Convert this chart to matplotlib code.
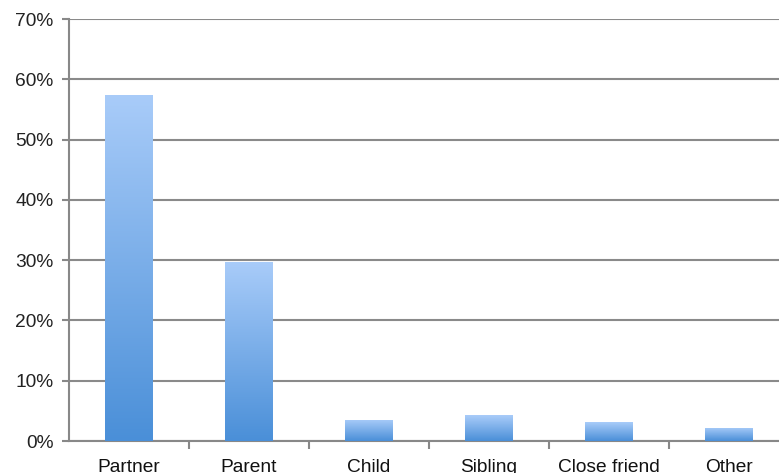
import numpy as np
import matplotlib
matplotlib.use("Agg")
import matplotlib.pyplot as plt
from matplotlib.colors import LinearSegmentedColormap

categories = ["Partner", "Parent", "Child", "Sibling", "Close friend", "Other"]
values = [57.4, 29.7, 3.5, 4.3, 3.1, 2.2]
yticks = [0, 10, 20, 30, 40, 50, 60, 70]
ytick_labels = ["0%", "10%", "20%", "30%", "40%", "50%", "60%", "70%"]

plt.rcParams['font.family'] = ['Liberation Sans', 'DejaVu Sans']

W, H = 779, 473
fig = plt.figure(figsize=(W / 100, H / 100), dpi=100)
left, right = 69 / W, 789 / W
bottom, top = 1 - 441 / H, 1 - 19 / H
ax = fig.add_axes([left, bottom, right - left, top - bottom])

x = np.arange(len(categories))
bars = ax.bar(x, values, width=0.4, color="none", edgecolor="none", zorder=3)

cmap = LinearSegmentedColormap.from_list("g", ["#4A8FD8", "#A9CCF9"])
grad = np.linspace(0, 1, 256).reshape(-1, 1)
for b in bars:
    bx, by = b.get_x(), b.get_y()
    bw, bh = b.get_width(), b.get_height()
    im = ax.imshow(grad, cmap=cmap, origin="lower", aspect="auto",
                   extent=[bx, bx + bw, by, by + bh], zorder=3,
                   interpolation="bilinear")
    im.set_clip_path(b)

ax.set_xlim(-0.5, len(categories) - 0.5)
ax.set_ylim(0, 70)
ax.set_yticks(yticks)
ax.set_yticklabels(ytick_labels, fontsize=13.8, color="#222222")
ax.set_xticks(x)
ax.set_xticklabels(categories, fontsize=13.8, color="#111111")
ax.tick_params(axis="x", length=0, pad=13)
ax.set_xticks(np.arange(len(categories) - 1) + 0.5, minor=True)
ax.tick_params(axis="x", which="minor", length=6, width=1.5, color="#888888", direction="out")
ax.tick_params(axis="y", length=5, width=1.5, color="#888888", pad=6)

ax.yaxis.grid(True, color="#8a8a8a", linewidth=1.5, zorder=1)
ax.set_axisbelow(True)
for s in ["top", "right"]:
    ax.spines[s].set_visible(False)
ax.spines["left"].set_color("#888888")
ax.spines["left"].set_linewidth(1.5)
ax.spines["bottom"].set_color("#888888")
ax.spines["bottom"].set_linewidth(1.5)

fig.savefig("out.png", dpi=100)
